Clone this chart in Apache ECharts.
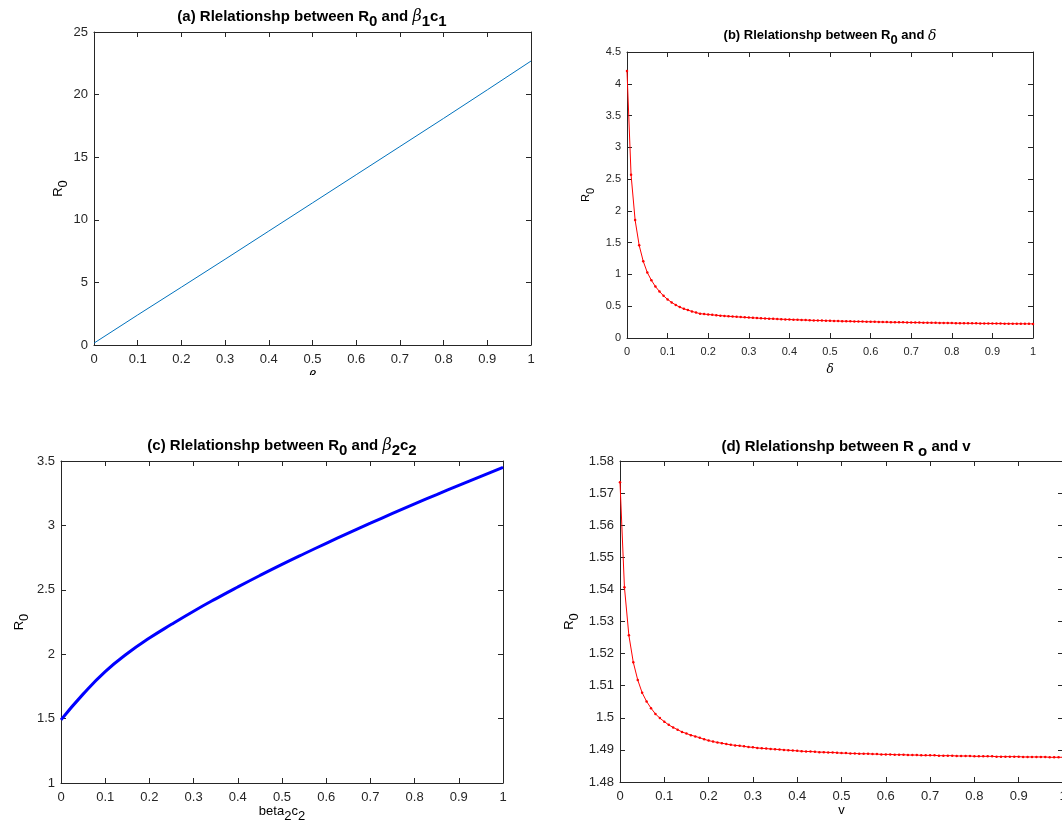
<!DOCTYPE html>
<html>
<head>
<meta charset="utf-8">
<script src="https://cdn.jsdelivr.net/npm/echarts@6/dist/echarts.min.js"></script>
<style>
  html, body { margin: 0; padding: 0; background: #fff; }
  #main { width: 1062px; height: 822px; }
</style>
</head>
<body>
<div id="main"></div>
<script>
// (a) R0 against beta1*c1
var beta1X = [0, 0.1, 0.2, 0.3, 0.4, 0.5, 0.6, 0.7, 0.8, 0.9, 1];
var beta1R0 = [0.15, 2.4, 4.62, 6.85, 9.1, 11.35, 13.6, 15.85, 18.1, 20.38, 22.68];

// (b) R0 against delta, one point every 0.01
var deltaR0 = [
  4.2, 2.57, 1.855, 1.458, 1.207, 1.03, 0.909, 0.81, 0.732, 0.664,
  0.607, 0.56, 0.52, 0.486, 0.46, 0.439, 0.418, 0.40, 0.383, 0.376,
  0.370, 0.364, 0.358, 0.352, 0.347, 0.342, 0.337, 0.333, 0.329, 0.325,
  0.321, 0.317, 0.314, 0.310, 0.307, 0.304, 0.301, 0.298, 0.296, 0.293,
  0.291, 0.288, 0.286, 0.284, 0.282, 0.279, 0.277, 0.275, 0.274, 0.272,
  0.270, 0.268, 0.267, 0.265, 0.264, 0.262, 0.261, 0.259, 0.258, 0.256,
  0.255, 0.254, 0.253, 0.251, 0.250, 0.249, 0.248, 0.247, 0.246, 0.245,
  0.244, 0.243, 0.242, 0.241, 0.240, 0.239, 0.238, 0.237, 0.237, 0.236,
  0.235, 0.234, 0.233, 0.233, 0.232, 0.231, 0.231, 0.230, 0.229, 0.229,
  0.228, 0.227, 0.227, 0.226, 0.225, 0.225, 0.224, 0.224, 0.223, 0.223,
  0.222
];

// (c) R0 against beta2*c2
var beta2X = [0, 0.05, 0.1, 0.15, 0.2, 0.25, 0.3, 0.35, 0.4, 0.45, 0.5,
  0.55, 0.6, 0.65, 0.7, 0.75, 0.8, 0.85, 0.9, 0.95, 1];
var beta2R0 = [1.49, 1.69, 1.865, 2.005, 2.125, 2.232, 2.334, 2.430, 2.522, 2.611, 2.697,
  2.780, 2.861, 2.940, 3.017, 3.093, 3.167, 3.239, 3.311, 3.381, 3.45];

// (d) R0 against v, one point every 0.01
var vR0 = [
  1.5734, 1.5407, 1.5257, 1.5173, 1.5118, 1.5078, 1.5051, 1.5030, 1.5012, 1.4999,
  1.4988, 1.4978, 1.4970, 1.4963, 1.4956, 1.4951, 1.4946, 1.4942, 1.4938, 1.4933,
  1.4929, 1.4926, 1.4923, 1.4921, 1.4918, 1.4916, 1.4914, 1.4913, 1.4911, 1.4909,
  1.4908, 1.4906, 1.4905, 1.4904, 1.4903, 1.4902, 1.4901, 1.4900, 1.4899, 1.4898,
  1.4897, 1.4896, 1.4895, 1.4895, 1.4894, 1.4893, 1.4893, 1.4892, 1.4892, 1.4891,
  1.4890, 1.4890, 1.4889, 1.4889, 1.4888, 1.4888, 1.4888, 1.4887, 1.4887, 1.4886,
  1.4886, 1.4886, 1.4885, 1.4885, 1.4885, 1.4884, 1.4884, 1.4884, 1.4883, 1.4883,
  1.4883, 1.4883, 1.4882, 1.4882, 1.4882, 1.4882, 1.4881, 1.4881, 1.4881, 1.4881,
  1.4880, 1.4880, 1.4880, 1.4880, 1.4880, 1.4879, 1.4879, 1.4879, 1.4879, 1.4879,
  1.4879, 1.4878, 1.4878, 1.4878, 1.4878, 1.4878, 1.4878, 1.4877, 1.4877, 1.4877,
  1.4877
];

var fineX = [];
for (var i = 0; i <= 100; i++) {
  fineX.push(+(i / 100).toFixed(2));
}

function pairs(xs, ys) {
  return xs.map(function (x, k) { return [x, ys[k]]; });
}

var AX = '#262626';
var FONT = '"Liberation Sans", Arial, sans-serif';

// rich styles for text with subscripts: main text at the top of the line, subscripts at the bottom
function richStyle(fs, bold, drop) {
  var w = bold ? 'bold' : 'normal';
  return {
    t: {fontSize: fs, fontWeight: w, fontFamily: FONT, color: '#000', lineHeight: fs, verticalAlign: 'top'},
    s: {fontSize: fs, fontWeight: w, fontFamily: FONT, color: '#000', lineHeight: fs + drop, verticalAlign: 'bottom'},
    g: {fontSize: fs + 1, fontWeight: 'normal', fontStyle: 'italic', fontFamily: '"DejaVu Serif", serif', color: '#000', lineHeight: fs, verticalAlign: 'top'}
  };
}

var grids = [
  {left: 94, top: 32, width: 437, height: 313},
  {left: 627, top: 52, width: 406, height: 286},
  {left: 61, top: 461, width: 442, height: 322},
  {left: 620, top: 461, width: 443, height: 321}
];
grids.forEach(function (g) { g.outerBoundsMode = 'none'; g.containLabel = false; });

var tickFs = [13, 11, 13, 13];
var yRanges = [[0, 25, 5], [0, 4.5, 0.5], [1, 3.5, 0.5], [1.48, 1.58, 0.01]];
var yGaps = [23, 31, 30, 39];
var xNames = ['{g|β}', '{g|δ}', '{t|beta}{s|2}{t|c}{s|2}', '{t|v}'];
var xGaps = [25, 26, 9, 11];

var xAxes = [], yAxes = [];
grids.forEach(function (g, gi) {
  var fs = tickFs[gi];
  var lineStyle = {color: AX, width: 1};
  xAxes.push({
    gridIndex: gi, type: 'value', position: 'bottom', min: 0, max: 1, interval: 0.1,
    axisLine: {show: true, onZero: false, lineStyle: lineStyle},
    axisTick: {inside: true, length: 5, lineStyle: lineStyle},
    axisLabel: {color: AX, fontSize: fs, fontFamily: FONT, margin: 8},
    splitLine: {show: false},
    name: xNames[gi], nameLocation: 'middle', nameGap: xGaps[gi],
    nameTextStyle: {rich: richStyle(fs, false, 5)}
  });
  xAxes.push({
    gridIndex: gi, type: 'value', position: 'top', min: 0, max: 1, interval: 0.1,
    axisLine: {show: true, onZero: false, lineStyle: lineStyle},
    axisTick: {inside: true, length: 5, lineStyle: lineStyle},
    axisLabel: {show: false}, splitLine: {show: false}
  });
  var yr = yRanges[gi];
  yAxes.push({
    gridIndex: gi, type: 'value', position: 'left', min: yr[0], max: yr[1], interval: yr[2],
    axisLine: {show: true, onZero: false, lineStyle: lineStyle},
    axisTick: {inside: true, length: 5, lineStyle: lineStyle},
    axisLabel: {color: AX, fontSize: fs, fontFamily: FONT, margin: 6},
    splitLine: {show: false},
    name: '{t|R}{s|0}', nameLocation: 'middle', nameGap: yGaps[gi],
    nameTextStyle: {rich: richStyle(fs, false, 5)}
  });
  yAxes.push({
    gridIndex: gi, type: 'value', position: 'right', min: yr[0], max: yr[1], interval: yr[2],
    axisLine: {show: true, onZero: false, lineStyle: lineStyle},
    axisTick: {inside: true, length: 5, lineStyle: lineStyle},
    axisLabel: {show: false}, splitLine: {show: false}
  });
});

var titles = [
  {text: '{t|(a) Rlelationshp between R}{s|0}{t| and }{g|β}{s|1}{t|c}{s|1}', left: 312, top: 9, fs: 15},
  {text: '{t|(b) Rlelationshp between R}{s|0}{t| and }{g|δ}', left: 830, top: 29, fs: 13},
  {text: '{t|(c) Rlelationshp between R}{s|0}{t| and }{g|β}{s|2}{t|c}{s|2}', left: 282, top: 438, fs: 15},
  {text: '{t|(d) Rlelationshp between R}{s| o}{t| and v}', left: 846, top: 439, fs: 15}
].map(function (t) {
  return {
    text: t.text, left: t.left, top: t.top, textAlign: 'center', padding: 0,
    textStyle: {rich: richStyle(t.fs, true, 5)}
  };
});

var option = {
  backgroundColor: '#fff',
  animation: false,
  title: titles,
  grid: grids,
  xAxis: xAxes,
  yAxis: yAxes,
  series: [
    {
      type: 'line', xAxisIndex: 0, yAxisIndex: 0, data: pairs(beta1X, beta1R0),
      showSymbol: false, lineStyle: {color: '#0072bd', width: 1}
    },
    {
      type: 'line', xAxisIndex: 2, yAxisIndex: 2, data: pairs(fineX, deltaR0),
      symbol: 'circle', symbolSize: 2.5, showAllSymbol: true,
      itemStyle: {color: '#ff0000'}, lineStyle: {color: '#ff0000', width: 1}
    },
    {
      type: 'line', xAxisIndex: 4, yAxisIndex: 4, data: pairs(beta2X, beta2R0),
      smooth: 0.5, showSymbol: false, lineStyle: {color: '#0000ff', width: 3}
    },
    {
      type: 'line', xAxisIndex: 6, yAxisIndex: 6, data: pairs(fineX, vR0),
      symbol: 'circle', symbolSize: 2.5, showAllSymbol: true,
      itemStyle: {color: '#ff0000'}, lineStyle: {color: '#ff0000', width: 1}
    }
  ],
  // the beta label under panel (a) is cut off in the original figure
  graphic: [{
    type: 'rect', z: 100, silent: true,
    shape: {x: 250, y: 375, width: 120, height: 50},
    style: {fill: '#fff'}
  }]
};

var myChart = echarts.init(document.getElementById('main'));
myChart.setOption(option);
</script>
</body>
</html>
